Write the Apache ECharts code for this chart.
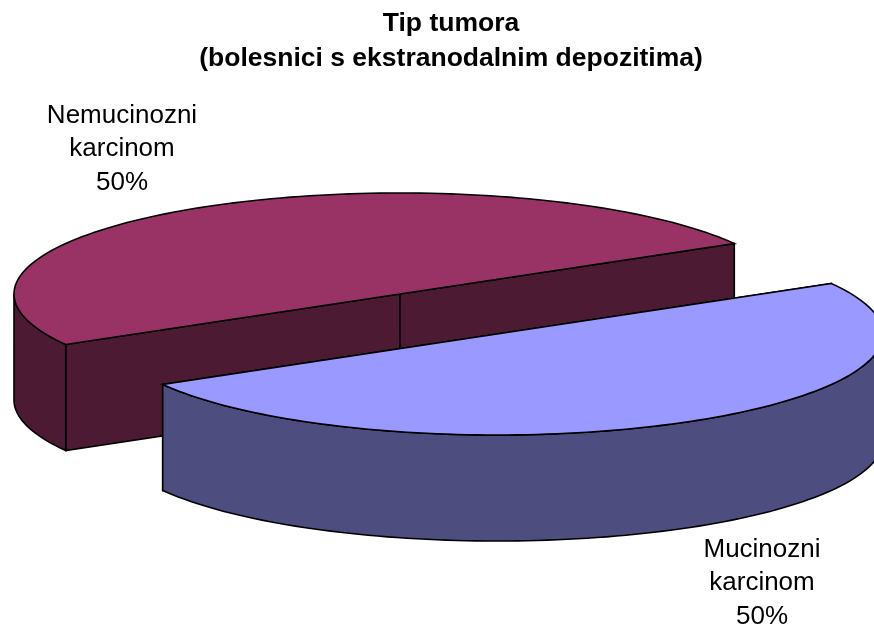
<!DOCTYPE html>
<html>
<head>
<meta charset="utf-8">
<style>html,body{margin:0;padding:0;background:#fff}#c{width:874px;height:632px}</style>
<script src="https://cdn.jsdelivr.net/npm/echarts@6/dist/echarts.min.js"></script>
</head>
<body>
<div id="c"></div>
<script>
var categories = ['Nemucinozni\nkarcinom', 'Mucinozni\nkarcinom'];
var values = [50, 50];
var titleLines = ['Tip tumora', '(bolesnici s ekstranodalnim depozitima)'];

var topColors = ['#993366', '#9999FF'];
var wallColors = ['#4D1A33', '#4D4D80'];
var explode = [[0, 0], [97, 40]];
var labelAnchors = [[122, 149], [762, 583]];
var CX = 400, CY = 294, RX = 386, RY = 101, DEPTH = 106, START = 30;
var total = values.reduce(function (a, b) { return a + b; }, 0);

function rimPoint(cx, cy, deg, dy) {
  var r = deg * Math.PI / 180;
  return [cx + RX * Math.cos(r), cy - RY * Math.sin(r) + (dy || 0)];
}
function arc(cx, cy, a0, a1, dy) {
  var pts = [], n = Math.max(2, Math.ceil(Math.abs(a1 - a0) / 1.5));
  for (var i = 0; i <= n; i++) pts.push(rimPoint(cx, cy, a0 + (a1 - a0) * i / n, dy));
  return pts;
}
function poly(points, fill) {
  return {
    type: 'polygon',
    shape: { points: points },
    style: { fill: fill, stroke: '#000', lineWidth: 1.6, lineJoin: 'miter' }
  };
}
function renderItem(params, api) {
  var i = params.dataIndex;
  var before = 0;
  for (var k = 0; k < i; k++) before += values[k];
  var a0 = START + before / total * 360;
  var a1 = a0 + api.value(0) / total * 360;
  var cx = CX + explode[i][0], cy = CY + explode[i][1];
  var children = [];
  // radial cut faces
  [a1, a0].forEach(function (a) {
    var p = rimPoint(cx, cy, a, 0), q = rimPoint(cx, cy, a, DEPTH);
    children.push(poly([[cx, cy], p, q, [cx, cy + DEPTH]], wallColors[i]));
  });
  // outer wall: the part of the rim on the front half
  var w0 = Math.max(a0, 180), w1 = Math.min(a1, 360);
  if (w1 > w0) {
    var wall = arc(cx, cy, w0, w1, 0).concat(arc(cx, cy, w1, w0, DEPTH));
    children.push(poly(wall, wallColors[i]));
  }
  // top surface
  children.push(poly([[cx, cy]].concat(arc(cx, cy, a0, a1, 0)), topColors[i]));
  // label
  children.push({
    type: 'text',
    style: {
      x: labelAnchors[i][0], y: labelAnchors[i][1],
      text: categories[i] + '\n' + Math.round(api.value(0) / total * 100) + '%',
      align: 'center', verticalAlign: 'middle',
      font: '26px "Liberation Sans"', lineHeight: 33.5, fill: '#000'
    }
  });
  return { type: 'group', children: children };
}

var chart = echarts.init(document.getElementById('c'), null, { renderer: 'canvas' });
chart.setOption({
  animation: false,
  backgroundColor: '#fff',
  title: {
    text: titleLines.join('\n'),
    left: 446, top: 1, textAlign: 'center',
    textStyle: { fontFamily: 'Liberation Sans', fontWeight: 'bold', fontSize: 26.5, lineHeight: 35, color: '#000' }
  },
  series: [{
    type: 'custom',
    coordinateSystem: 'none',
    renderItem: renderItem,
    silent: true,
    data: values.map(function (v, i) { return { name: categories[i], value: [v] }; })
  }]
});
</script>
</body>
</html>
